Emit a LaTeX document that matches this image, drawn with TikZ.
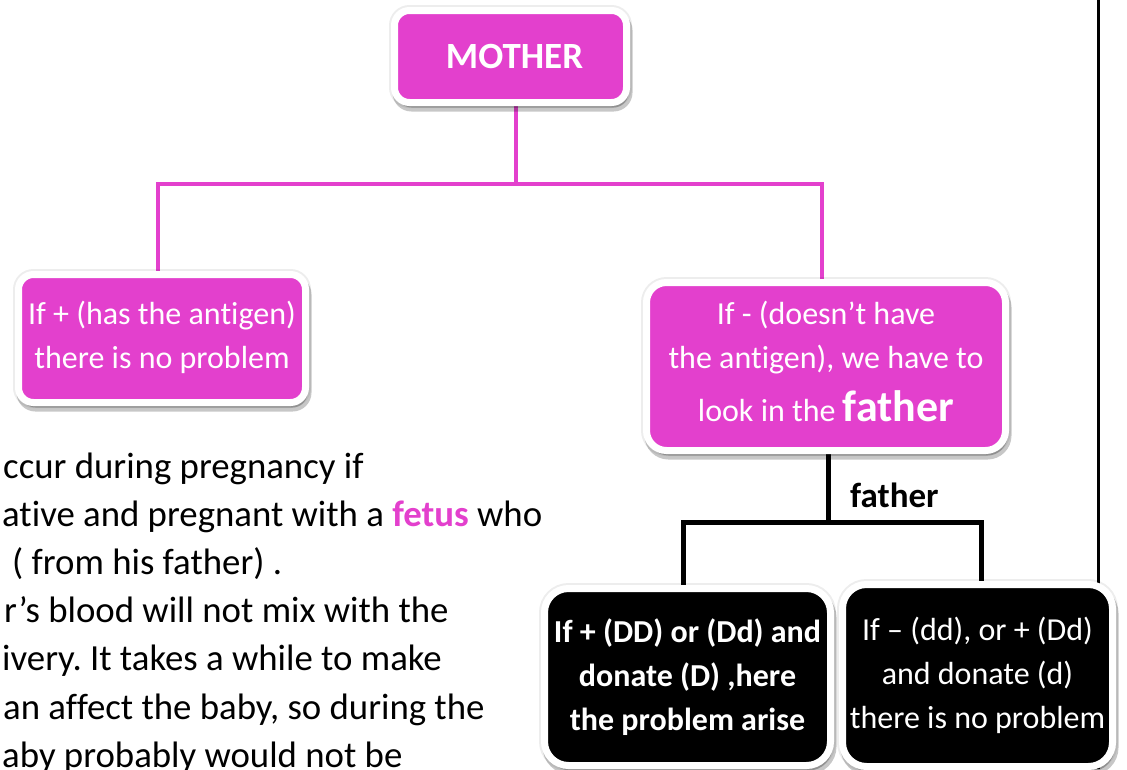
\documentclass[tikz,border=0pt]{standalone}
\usepackage{fontspec}
\setmainfont{Carlito}[Ligatures={TeX,NoCommon}]
\usetikzlibrary{shadows,backgrounds}
\definecolor{momPink}{HTML}{E340CD}
\tikzset{
	box/.style={draw=white,line width=7pt,text=white,align=center,inner sep=0pt,
		drop shadow={shadow xshift=0pt,shadow yshift=0pt,fill=black,draw=black,line width=11pt,opacity=.07},
		drop shadow={shadow xshift=2pt,shadow yshift=-5pt,fill=black,draw=black,line width=8pt,opacity=.22},
		font=\fontsize{32}{44}\selectfont},
	pinkbox/.style={box,fill=momPink,rounded corners=15pt},
	blackbox/.style={box,fill=black,rounded corners=24pt},
	pinkline/.style={momPink,line width=4pt},
	blackline/.style={black,line width=5pt},
	body/.style={anchor=base west,inner sep=0pt,font=\frenchspacing\fontsize{36.8}{48}\selectfont}
}
\begin{document}
\begin{tikzpicture}[x=1pt,y=-1pt]
	\useasboundingbox (0,0) rectangle (1127,769);
	\clip (0,0) rectangle (1127,769);
	% the text behind the tree
	\foreach \x/\t [count=\i,evaluate={\y=478+48.2*(\i-1)}] in {3/{ccur during pregnancy if},
		2/{ative and pregnant with a \textcolor{momPink}{\textbf{fetus}} who},12/{( from his father) .},
		4/{r’s blood will not mix with the},2/{ivery. It takes a while to make},
		3/{an affect the baby, so during the},2/{aby probably would not be}}
		\node[body] (line\i) at (\x,\y) {\t};
	% boxes
	\node[pinkbox,minimum width=232pt,minimum height=92pt,font=\bfseries\fontsize{37}{44}\selectfont]
		(mother) at (510.5,56.5) {\hspace*{8pt}MOTHER};
	\node[pinkbox,minimum width=287pt,minimum height=128pt] (hasAg) at (162,338.5)
		{If + (has the antigen)\\there is no problem\rule[-8pt]{0pt}{0pt}};
	\node[pinkbox,minimum width=359pt,minimum height=168pt,rounded corners=20pt] (noAg) at (826,366.5)
		{If - (doesn’t have\\the antigen), we have to\\[9pt]look in the {\bfseries\fontsize{44}{48}\selectfont father}\rule[-10pt]{0pt}{0pt}};
	\node[blackbox,minimum width=286pt,minimum height=177pt,font=\bfseries\fontsize{32}{44}\selectfont]
		(problem) at (687.5,677) {If + (DD) or (Dd) and\\donate (D) ,here\\the problem arise};
	\node[blackbox,minimum width=270pt,minimum height=182pt] (noProblem) at (977.5,675.5)
		{If – (dd), or + (Dd)\\and donate (d)\\there is no problem};
	\node[anchor=base west,inner sep=0pt,font=\bfseries\fontsize{35}{40}\selectfont] (fatherLbl) at (850,507) {father};
	% connectors
	\path (mother.south) ++(0,77.5) coordinate (momBar);
	\path (noAg.south) ++(0,68.5) coordinate (dadBar);
	\begin{scope}[on background layer]
		\draw[line width=3pt] (1098,0) -- (1098,769);
		\draw[pinkline] ([xshift=5pt]mother.center) -- ([xshift=5pt]momBar);
		\draw[pinkline] ([xshift=-4pt]hasAg.center) |- (momBar) -| ([xshift=-4pt]noAg.center);
		\draw[blackline] ([xshift=2pt]noAg.center) -- ([xshift=2pt]dadBar);
		\draw[blackline] ([xshift=-4pt]problem.center) |- (dadBar) -| ([xshift=4pt]noProblem.center);
	\end{scope}
\end{tikzpicture}
\end{document}
